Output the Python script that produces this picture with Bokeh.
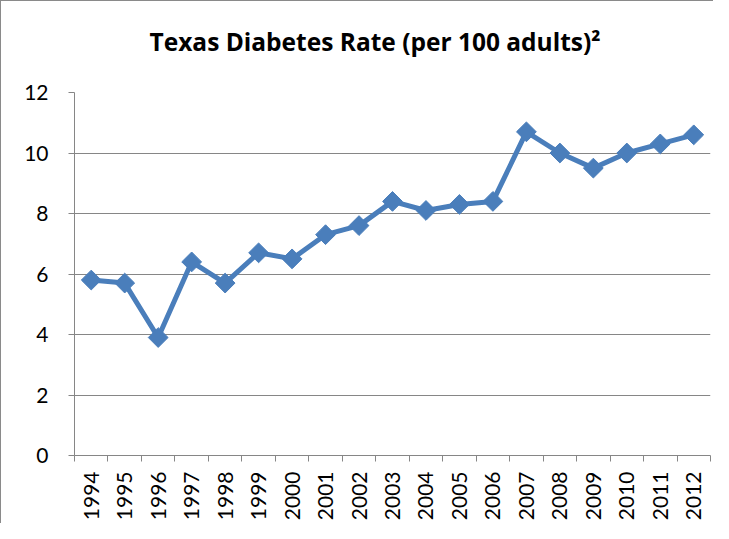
import math
from bokeh.plotting import figure
from bokeh.models import FixedTicker, Range1d, Title
from bokeh.embed import file_html
from bokeh.resources import INLINE

years = list(range(1994, 2013))
rates = [5.8, 5.7, 3.9, 6.4, 5.7, 6.7, 6.5, 7.3, 7.6, 8.4, 8.1, 8.3, 8.4, 10.7, 10.0, 9.5, 10.0, 10.3, 10.6]
y_ticks = [0, 2, 4, 6, 8, 10, 12]
title_text = "Texas Diabetes Rate (per 100 adults)\u00b2"

FONT = "Lato"
BLUE = "#4A7EBB"
GRAY = "#868686"

p = figure(width=713, height=523, output_backend="svg", toolbar_location=None,
           x_range=Range1d(years[0] - 0.5, years[-1] + 0.5), y_range=Range1d(0, 12),
           min_border_left=73, min_border_right=4, min_border_top=91, min_border_bottom=69)
p.styles = {"border-left": "1px solid #8a8a8a", "border-top": "1px solid #8a8a8a"}
p.outline_line_color = None

spacer = Title(text=" ", text_font="Open Sans", text_font_size="24px", standoff=0)
main_title = Title(text=title_text, align="left", offset=75, standoff=0,
                   text_font="Open Sans", text_font_style="bold", text_font_size="24.5px",
                   text_color="black")
p.add_layout(spacer, "above")
p.add_layout(main_title, "above")

p.xaxis.ticker = FixedTicker(ticks=years, minor_ticks=[y - 0.5 for y in years] + [years[-1] + 0.5])
p.xaxis.major_label_overrides = {y: str(y) for y in years}
p.xaxis.major_label_orientation = math.pi / 2
p.xaxis.major_tick_out = 0
p.xaxis.major_tick_in = 0
p.xaxis.minor_tick_out = 6
p.xaxis.minor_tick_in = 0
p.xaxis.minor_tick_line_color = GRAY
p.xaxis.axis_line_color = GRAY
p.xaxis.major_label_text_font = FONT
p.xaxis.major_label_text_font_size = "21px"
p.xaxis.major_label_text_color = "black"
p.xaxis.major_label_standoff = 10

p.yaxis.ticker = FixedTicker(ticks=y_ticks, minor_ticks=[])
p.yaxis.major_tick_out = 6
p.yaxis.major_tick_in = 0
p.yaxis.major_tick_line_color = GRAY
p.yaxis.axis_line_color = GRAY
p.yaxis.major_label_text_font = FONT
p.yaxis.major_label_text_font_size = "21px"
p.yaxis.major_label_text_color = "black"
p.yaxis.major_label_standoff = 20

p.xgrid.grid_line_color = None
p.ygrid.grid_line_color = GRAY
p.ygrid.grid_line_width = 1

p.line(years, rates, line_color=BLUE, line_width=5)
p.scatter(years, rates, marker="square", angle=math.pi / 4, size=14,
          fill_color=BLUE, line_color=BLUE)

open("out.html", "w").write(file_html(p, INLINE))
